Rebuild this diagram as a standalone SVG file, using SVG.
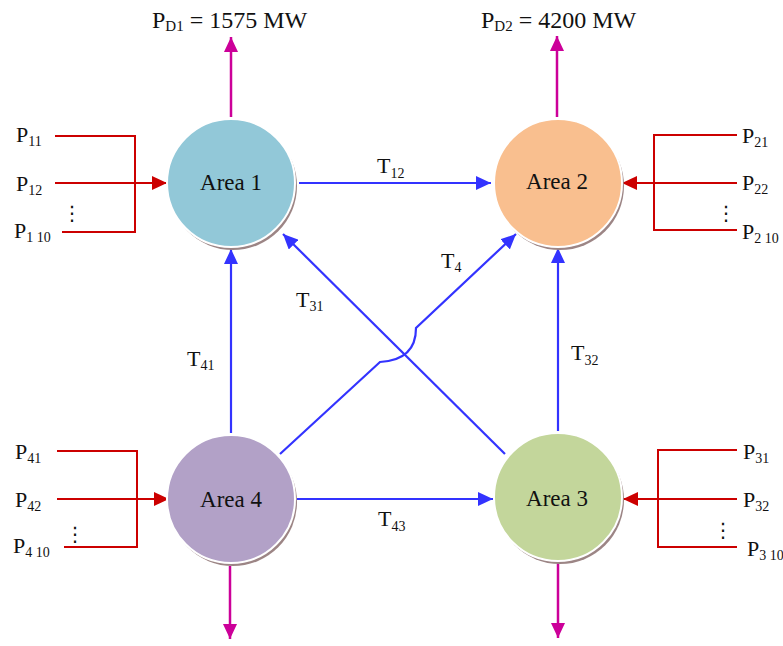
<svg xmlns="http://www.w3.org/2000/svg" width="783" height="646" viewBox="0 0 783 646">
<style>
text{font-family:"Liberation Serif","Times New Roman",serif;fill:#111}
.lbl{font-size:22px}
.sub{font-size:14px}
.area{font-size:23px;text-anchor:middle}
.dots{font-family:"DejaVu Sans",sans-serif;font-size:20px;text-anchor:middle}
.blue{stroke:#3333FF;stroke-width:2.2;fill:none}
.red{stroke:#CC0000;stroke-width:2;fill:none}
.mag{stroke:#CC0099;stroke-width:2.5;fill:none}
.shadow{fill:#9C8585}
.disc{stroke:#fff;stroke-width:2}
</style>
<defs>
<marker id="ab" markerUnits="userSpaceOnUse" markerWidth="16" markerHeight="14" refX="15" refY="7" orient="auto"><path d="M0,0 L15,7 L0,14 z" fill="#3333FF"/></marker>
<marker id="ar" markerUnits="userSpaceOnUse" markerWidth="16" markerHeight="14" refX="15" refY="7" orient="auto"><path d="M0,0 L15,7 L0,14 z" fill="#CC0000"/></marker>
<marker id="am" markerUnits="userSpaceOnUse" markerWidth="16" markerHeight="14" refX="15" refY="7" orient="auto"><path d="M0,0 L15,7 L0,14 z" fill="#CC0099"/></marker>
</defs>
<rect width="783" height="646" fill="#fff"/>

<g id="connectors">
<path class="mag" d="M231,117 V37" marker-end="url(#am)"/>
<path class="mag" d="M557,117 V36" marker-end="url(#am)"/>
<path class="mag" d="M230,566 V639" marker-end="url(#am)"/>
<path class="mag" d="M558,563 V638" marker-end="url(#am)"/>
<path class="red" d="M55,136 H135 V232 H62"/>
<path class="red" d="M55,183 H167" marker-end="url(#ar)"/>
<path class="red" d="M737,135 H654 V230 H737"/>
<path class="red" d="M737,183 H622" marker-end="url(#ar)"/>
<path class="red" d="M57,451 H137 V547 H64"/>
<path class="red" d="M57,499 H169" marker-end="url(#ar)"/>
<path class="red" d="M737,450 H658 V547 H737"/>
<path class="red" d="M737,499 H623" marker-end="url(#ar)"/>
<path class="blue" d="M299,183 H491" marker-end="url(#ab)"/>
<path class="blue" d="M297,499 H493" marker-end="url(#ab)"/>
<path class="blue" d="M231,433 V249" marker-end="url(#ab)"/>
<path class="blue" d="M558,431 V248" marker-end="url(#ab)"/>
<path class="blue" d="M505,454 L283,234" marker-end="url(#ab)"/>
<path class="blue" d="M280,454 L380,362 Q416,360 416,328 L516,234" marker-end="url(#ab)"/>
</g>

<g id="area1">
<circle class="shadow" cx="233" cy="186" r="64"/>
<circle class="disc" cx="231" cy="183" r="64" fill="#92C8D8"/>
<text class="area" x="231" y="190">Area 1</text>
</g>
<g id="area2">
<circle class="shadow" cx="560" cy="186" r="64"/>
<circle class="disc" cx="558" cy="183" r="64" fill="#F9BF8F"/>
<text class="area" x="557" y="189">Area 2</text>
</g>
<g id="area4">
<circle class="shadow" cx="233" cy="502" r="64"/>
<circle class="disc" cx="231" cy="499" r="64" fill="#B2A1C7"/>
<text class="area" x="231" y="507">Area 4</text>
</g>
<g id="area3">
<circle class="shadow" cx="560" cy="500" r="64"/>
<circle class="disc" cx="558" cy="497" r="64" fill="#C3D69B"/>
<text class="area" x="557" y="506">Area 3</text>
</g>

<g id="labels">
<text x="152" y="28" font-size="24">P<tspan font-size="15" dy="3">D1</tspan><tspan dy="-3"> = 1575 MW</tspan></text>
<text x="481" y="28" font-size="24">P<tspan font-size="15" dy="3">D2</tspan><tspan dy="-3"> = 4200 MW</tspan></text>

<text class="lbl" x="16" y="142">P<tspan class="sub" dy="4">11</tspan></text>
<text class="lbl" x="16" y="191">P<tspan class="sub" dy="4">12</tspan></text>
<text class="lbl" x="14" y="238">P<tspan class="sub" dy="4">1 10</tspan></text>
<text class="dots" x="72" y="220">⋮</text>

<text class="lbl" x="742" y="143">P<tspan class="sub" dy="4">21</tspan></text>
<text class="lbl" x="742" y="190">P<tspan class="sub" dy="4">22</tspan></text>
<text class="lbl" x="742" y="239">P<tspan class="sub" dy="4">2 10</tspan></text>
<text class="dots" x="726" y="220">⋮</text>

<text class="lbl" x="15" y="459">P<tspan class="sub" dy="4">41</tspan></text>
<text class="lbl" x="15" y="507">P<tspan class="sub" dy="4">42</tspan></text>
<text class="lbl" x="13" y="553">P<tspan class="sub" dy="4">4 10</tspan></text>
<text class="dots" x="75" y="541">⋮</text>

<text class="lbl" x="743" y="459">P<tspan class="sub" dy="4">31</tspan></text>
<text class="lbl" x="743" y="507">P<tspan class="sub" dy="4">32</tspan></text>
<text class="lbl" x="747" y="556">P<tspan class="sub" dy="4">3 10</tspan></text>
<text class="dots" x="723" y="537">⋮</text>

<text class="lbl" x="377" y="173">T<tspan class="sub" dy="5">12</tspan></text>
<text class="lbl" x="378" y="526">T<tspan class="sub" dy="5">43</tspan></text>
<text class="lbl" x="187" y="366">T<tspan class="sub" dy="4">41</tspan></text>
<text class="lbl" x="571" y="360">T<tspan class="sub" dy="5">32</tspan></text>
<text class="lbl" x="296" y="307">T<tspan class="sub" dy="4">31</tspan></text>
<text class="lbl" x="441" y="268">T<tspan class="sub" dy="4">4</tspan></text>
</g>
</svg>
